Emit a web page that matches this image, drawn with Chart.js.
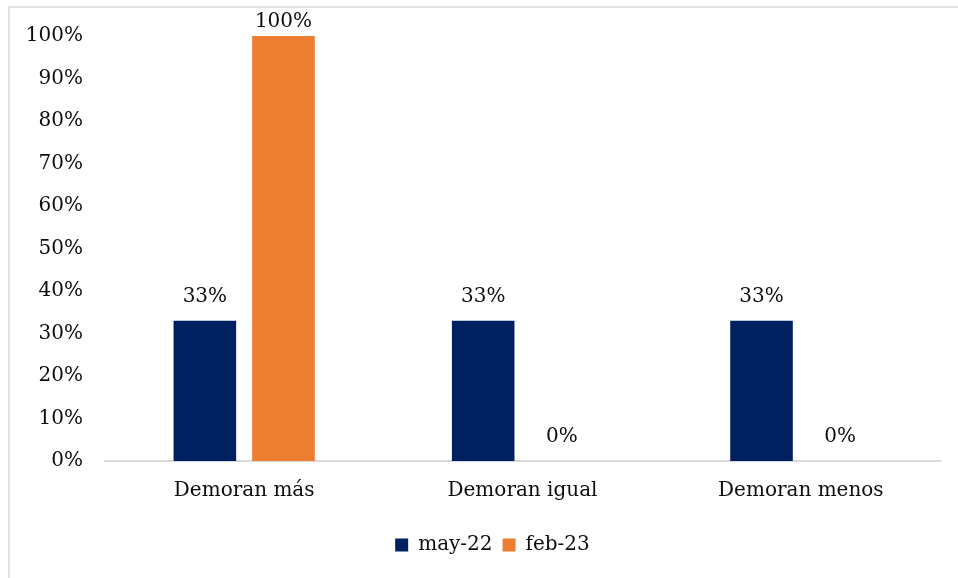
<!DOCTYPE html>
<html>
<head>
<meta charset="utf-8">
<script src="https://cdn.jsdelivr.net/npm/chart.js@4/dist/chart.umd.min.js"></script>
<style>
  html, body { margin: 0; padding: 0; background: #fff; }
  #wrap { width: 958px; height: 578px; }
</style>
</head>
<body>
<div id="wrap"><canvas id="demoraChart" width="958" height="578"></canvas></div>
<script>
// categorias y series (porcentajes)
const categorias = ['Demoran más', 'Demoran igual', 'Demoran menos'];
const serieMay22 = [33, 33, 33];
const serieFeb23 = [100, 0, 0];
const etiquetasSeries = ['may-22', 'feb-23'];

Chart.defaults.font.family = "'DejaVu Serif', serif";
Chart.defaults.font.size = 20;
Chart.defaults.color = '#0d0d0d';

// marco gris arriba e izquierda
const marco = {
  id: 'marco',
  beforeDraw(chart) {
    const ctx = chart.ctx;
    ctx.save();
    ctx.fillStyle = '#fff';
    ctx.fillRect(0, 0, chart.width, chart.height);
    ctx.strokeStyle = '#e3e3e3';
    ctx.lineWidth = 2;
    ctx.beginPath();
    ctx.moveTo(9, chart.height);
    ctx.lineTo(9, 7);
    ctx.lineTo(chart.width, 7);
    ctx.stroke();
    ctx.restore();
  }
};

// la leyenda queda un poco a la derecha del centro
const moverLeyenda = {
  id: 'moverLeyenda',
  afterLayout(chart) {
    chart.legend.left += 45;
  }
};

// etiquetas de valor encima de cada barra
const etiquetasValor = {
  id: 'etiquetasValor',
  afterDatasetsDraw(chart) {
    const ctx = chart.ctx;
    ctx.save();
    ctx.font = "20px 'DejaVu Serif', serif";
    ctx.fillStyle = '#0d0d0d';
    ctx.textAlign = 'center';
    ctx.textBaseline = 'middle';
    chart.data.datasets.forEach((ds, i) => {
      chart.getDatasetMeta(i).data.forEach((bar, j) => {
        const y = Math.max(bar.y - 24, chart.chartArea.top - 14);
        ctx.fillText(ds.data[j] + '%', bar.x, y);
      });
    });
    ctx.restore();
  }
};

new Chart(document.getElementById('demoraChart'), {
  type: 'bar',
  data: {
    labels: categorias,
    datasets: [
      { label: etiquetasSeries[0], data: serieMay22, backgroundColor: '#002060' },
      { label: etiquetasSeries[1], data: serieFeb23, backgroundColor: '#ED7D31' }
    ]
  },
  options: {
    responsive: false,
    animation: false,
    layout: { padding: { top: 36, right: 18, bottom: 13, left: 0 } },
    datasets: {
      bar: { categoryPercentage: 0.565, barPercentage: 0.796 }
    },
    scales: {
      x: {
        grid: { display: false, drawTicks: false },
        border: { color: '#d9d9d9', width: 2 },
        ticks: { padding: 18 },
        afterFit(scale) { scale.height = 64; }
      },
      y: {
        min: 0,
        max: 100,
        grid: { display: false, drawTicks: false },
        border: { display: false },
        ticks: {
          stepSize: 10,
          padding: 22,
          callback: v => v + '%'
        },
        afterFit(scale) { scale.width = 105; }
      }
    },
    plugins: {
      legend: {
        position: 'bottom',
        labels: { boxWidth: 13, boxHeight: 13, padding: 10 }
      },
      tooltip: { enabled: false }
    }
  },
  plugins: [marco, moverLeyenda, etiquetasValor]
});
</script>
</body>
</html>
